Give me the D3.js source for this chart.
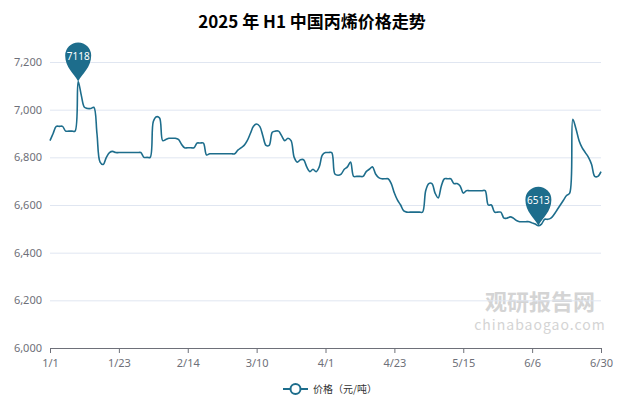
<!DOCTYPE html>
<html><head><meta charset="utf-8">
<script src="https://cdn.jsdelivr.net/npm/d3@7/dist/d3.min.js"></script>
<style>body{margin:0;background:#fff;font-family:"Noto Sans CJK SC","Noto Sans",sans-serif}</style>
</head><body><svg id="c" width="624" height="404"></svg>
<script>
const title = "2025 年 H1 中国丙烯价格走势";
const seriesName = "价格（元/吨）";
const skipDates = ["2-20","2-27","6-14","6-21"];
const tickLabels = ["1/1","1/23","2/14","3/10","4/1","4/23","5/15","6/6","6/30"];
const yTicks = [6000,6200,6400,6600,6800,7000,7200];
const values = [
6870,6900,6930,6930,6930,6910,6910,6910,6910,7118,7060,7010,7005,7005,7010,6900,6780,6770,6800,6820,
6825,6820,6820,6820,6820,6820,6820,6820,6820,6820,6800,6800,6800,6950,6970,6965,6870,6875,6880,6880,
6880,6875,6855,6840,6840,6840,6840,6860,6860,6860,6810,6815,6815,6815,6815,6815,6815,6815,6815,6815,
6830,6840,6850,6870,6900,6930,6940,6930,6890,6850,6850,6905,6910,6910,6890,6870,6880,6870,6800,6780,
6790,6790,6760,6740,6750,6740,6760,6810,6820,6820,6820,6730,6725,6730,6750,6760,6780,6720,6720,6720,
6720,6740,6750,6760,6730,6715,6710,6710,6710,6690,6650,6620,6600,6575,6570,6570,6570,6570,6570,6570,
6660,6690,6690,6650,6630,6680,6710,6710,6710,6690,6690,6680,6650,6660,6660,6660,6660,6660,6660,6660,
6600,6600,6570,6570,6570,6545,6545,6550,6545,6535,6530,6530,6530,6530,6525,6520,6513,6520,6540,6540,
6545,6560,6580,6600,6620,6640,6650,6960,6920,6870,6840,6820,6800,6770,6720,6720,6740];
const dates = [];
for (let d = new Date(2025,0,1); d <= new Date(2025,5,30); d.setDate(d.getDate()+1)) {
  const k = (d.getMonth()+1)+"-"+d.getDate();
  if (!skipDates.includes(k)) dates.push((d.getMonth()+1)+"/"+d.getDate());
}
const data = dates.map((d,i)=>({d, v: values[i]}));
const color = "#1d6d8c";
const svg = d3.select("#c");
const L=50,R=601,T=62,B=348;
const x = d3.scalePoint().domain(dates).range([L,R]);
const y = d3.scaleLinear().domain([6000,7200]).range([B,T]);

svg.append("text").attr("x",312).attr("y",28).attr("text-anchor","middle")
  .attr("font-size",17).attr("font-weight","bold").attr("fill","#000").text(title);

svg.append("text").attr("x",540).attr("y",310).attr("text-anchor","middle").attr("font-size",22)
  .attr("font-weight","bold").attr("fill","#d4d4d4").text("观研报告网");
svg.append("text").attr("x",540).attr("y",330).attr("text-anchor","middle").attr("font-size",14)
  .attr("fill","#d4d4d4").attr("letter-spacing",1).text("chinabaogao.com");

const gy = svg.append("g").attr("transform",`translate(${L},0)`)
  .call(d3.axisLeft(y).tickValues(yTicks).tickSize(-(R-L)).tickFormat(d3.format(",")));
gy.select(".domain").remove();
gy.selectAll("line").attr("stroke","#e0e6f1");
gy.selectAll("text").attr("fill","#6e7079").attr("font-size",11).attr("x",-8).attr("font-family","Noto Sans, sans-serif");

const gx = svg.append("g").attr("transform",`translate(0,${B})`)
  .call(d3.axisBottom(x).tickValues(tickLabels).tickSize(5).tickSizeOuter(0));
gx.select(".domain").attr("stroke","#6e7079");
gx.selectAll("line").attr("stroke","#6e7079");
gx.selectAll("text").attr("fill","#6e7079").attr("font-size",11).attr("dy","1em").attr("font-family","Noto Sans, sans-serif");

svg.append("path").datum(data).attr("fill","none").attr("stroke",color).attr("stroke-width",1.6)
  .attr("d", d3.line().x(d=>x(d.d)).y(d=>y(d.v)).curve(d3.curveCatmullRom.alpha(0.5)));

function pin(d){
  const px=x(d.d), py=y(d.v);
  const g=svg.append("g").attr("transform",`translate(${px},${py})`);
  g.append("path").attr("fill",color)
   .attr("d","M0,0 C-4,-8 -13,-14 -13,-26 A13,13 0 1 1 13,-26 C13,-14 4,-8 0,0Z");
  g.append("text").attr("y",-22).attr("text-anchor","middle").attr("fill","#fff")
   .attr("font-size",10).attr("font-family","Noto Sans, sans-serif").text(d.v);
}
pin(data.reduce((a,b)=>b.v>a.v?b:a));
pin(data.reduce((a,b)=>b.v<a.v?b:a));

const lg = svg.append("g").attr("transform","translate(283,389)");
lg.append("line").attr("x1",0).attr("x2",25).attr("stroke",color).attr("stroke-width",2);
lg.append("circle").attr("cx",12.5).attr("r",5).attr("fill","#fff").attr("stroke",color).attr("stroke-width",2);
lg.append("text").attr("x",30).attr("y",4).attr("font-size",10).attr("fill","#333").text(seriesName);
</script></body></html>
